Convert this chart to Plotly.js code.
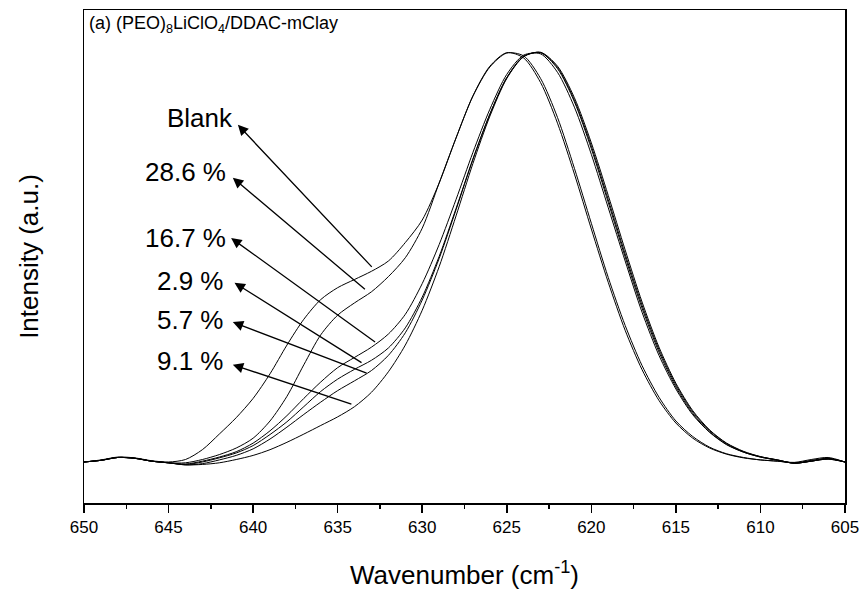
<!DOCTYPE html>
<html>
<head>
<meta charset="utf-8">
<script src="https://cdn.plot.ly/plotly-3.0.1.min.js"></script>
<style>html,body{margin:0;padding:0;background:#fff;}#chart{width:867px;height:594px;}</style>
</head>
<body>
<div id="chart"></div>
<script>
// Wavenumber grid (cm-1)
const wavenumber = [650,649,648,647,646,645,644,643,642,641,640,639,638,637,636,635,634,633,632,631,630,629,628,627,626,625,624,623,622,621,620,619,618,617,616,615,614,613,612,611,610,609,608,607,606,605];

// Intensity (a.u.)
const blank = [0.0,0.005,0.012,0.01,0.003,0.0,0.006,0.03,0.068,0.108,0.155,0.215,0.285,0.348,0.396,0.425,0.445,0.465,0.49,0.535,0.59,0.68,0.79,0.893,0.965,0.998,0.985,0.925,0.826,0.702,0.568,0.438,0.321,0.225,0.15,0.095,0.058,0.034,0.019,0.01,0.005,0.002,-0.001,0.006,0.011,0.0];
const p28_6 = [0.0,0.004,0.011,0.009,0.002,-0.002,-0.002,0.006,0.018,0.034,0.058,0.1,0.16,0.237,0.31,0.358,0.388,0.415,0.452,0.498,0.57,0.68,0.79,0.892,0.963,0.997,0.99,0.935,0.84,0.716,0.582,0.45,0.333,0.235,0.158,0.1,0.062,0.036,0.02,0.011,0.005,0.002,-0.002,0.004,0.009,0.0];
const p16_7 = [0.0,0.004,0.011,0.009,0.002,-0.002,-0.005,0.002,0.012,0.025,0.046,0.076,0.113,0.155,0.195,0.23,0.255,0.28,0.312,0.36,0.435,0.53,0.64,0.755,0.86,0.945,0.992,0.995,0.95,0.865,0.75,0.62,0.49,0.365,0.26,0.178,0.115,0.072,0.042,0.024,0.012,0.005,-0.003,0.002,0.008,0.0];
const p2_9 = [0.0,0.004,0.011,0.009,0.002,-0.002,-0.006,0.0,0.01,0.022,0.04,0.067,0.098,0.135,0.172,0.202,0.226,0.248,0.278,0.327,0.402,0.501,0.618,0.739,0.848,0.937,0.989,0.998,0.959,0.878,0.764,0.633,0.5,0.375,0.268,0.183,0.118,0.073,0.043,0.024,0.012,0.004,-0.003,0.002,0.008,0.0];
const p5_7 = [0.0,0.004,0.011,0.009,0.002,-0.002,-0.007,-0.004,0.005,0.016,0.032,0.056,0.085,0.116,0.146,0.174,0.198,0.223,0.26,0.315,0.395,0.496,0.615,0.738,0.848,0.937,0.989,0.998,0.962,0.882,0.77,0.64,0.507,0.382,0.274,0.188,0.122,0.076,0.045,0.025,0.013,0.005,-0.003,0.002,0.007,0.0];
const p9_1 = [0.0,0.004,0.011,0.009,0.002,-0.002,-0.007,-0.006,-0.002,0.006,0.016,0.03,0.048,0.068,0.089,0.11,0.135,0.17,0.22,0.285,0.37,0.476,0.6,0.728,0.843,0.935,0.988,0.999,0.965,0.888,0.778,0.65,0.517,0.39,0.28,0.192,0.125,0.078,0.046,0.026,0.013,0.005,-0.003,0.002,0.007,0.0];

const seriesNames = ["Blank","28.6 %","16.7 %","2.9 %","5.7 %","9.1 %"];
const seriesData = [blank,p28_6,p16_7,p2_9,p5_7,p9_1];

// Label placement (label anchor, arrow head near label, arrow tail on curve)
const labelX = [641.1,641.5,641.5,641.6,641.6,641.6];
const labelY = [0.838,0.707,0.546,0.441,0.346,0.246];
const headX  = [640.9,641.2,641.3,641.1,641.2,641.2];
const headY  = [0.822,0.693,0.546,0.437,0.341,0.237];
const tailX  = [632.9,633.3,632.7,633.5,633.2,634.1];
const tailY  = [0.472,0.418,0.29,0.24,0.215,0.14];

const traces = seriesData.map((d,i)=>({
  x: wavenumber, y: d, type:'scatter', mode:'lines', name: seriesNames[i],
  line:{color:'#000', width:1, shape:'spline', smoothing:0.8}, showlegend:false
}));

const FONT = 'Liberation Sans, Arial, sans-serif';
const annotations = [];
for (let i=0;i<seriesNames.length;i++){
  annotations.push({x:labelX[i], y:labelY[i], xref:'x', yref:'y', text:seriesNames[i],
    showarrow:false, xanchor:'right', yanchor:'middle',
    font:{family:FONT, size:26, color:'#000'}});
  annotations.push({x:headX[i], y:headY[i], ax:tailX[i], ay:tailY[i], xref:'x', yref:'y', axref:'x', ayref:'y',
    text:'', showarrow:true, arrowhead:2, arrowsize:1.6, arrowwidth:1.3, arrowcolor:'#000'});
}
annotations.push({x:0.004, y:0.998, xref:'paper', yref:'paper', xanchor:'left', yanchor:'top', showarrow:false,
  text:'(a) (PEO)<sub>8</sub>LiClO<sub>4</sub>/DDAC-mClay',
  font:{family:FONT, size:18, color:'#000'}});

const layout = {
  width:867, height:594,
  margin:{l:84, r:22, t:10, b:91},
  paper_bgcolor:'#fff', plot_bgcolor:'#fff',
  font:{family:FONT, color:'#000'},
  xaxis:{range:[650,605], autorange:false, showgrid:false, zeroline:false,
    showline:true, linecolor:'#000', linewidth:1.5, mirror:true,
    ticks:'outside', ticklen:8, tickwidth:1.5, tickcolor:'#000', dtick:5, tick0:605,
    tickfont:{size:17, family:FONT},
    minor:{ticks:'outside', ticklen:4, tickwidth:1.5, tickcolor:'#000', dtick:2.5, tick0:605.0},
    title:{text:'Wavenumber (cm<sup>-1</sup>)', font:{size:26}, standoff:30}},
  yaxis:{range:[-0.1,1.102], autorange:false, showgrid:false, zeroline:false,
    showline:true, linecolor:'#000', linewidth:1.5, mirror:true,
    ticks:'', showticklabels:false,
    title:{text:'Intensity (a.u.)', font:{size:26}, standoff:36}},
  annotations: annotations
};

Plotly.newPlot('chart', traces, layout, {displayModeBar:false, staticPlot:true});
</script>
</body>
</html>
